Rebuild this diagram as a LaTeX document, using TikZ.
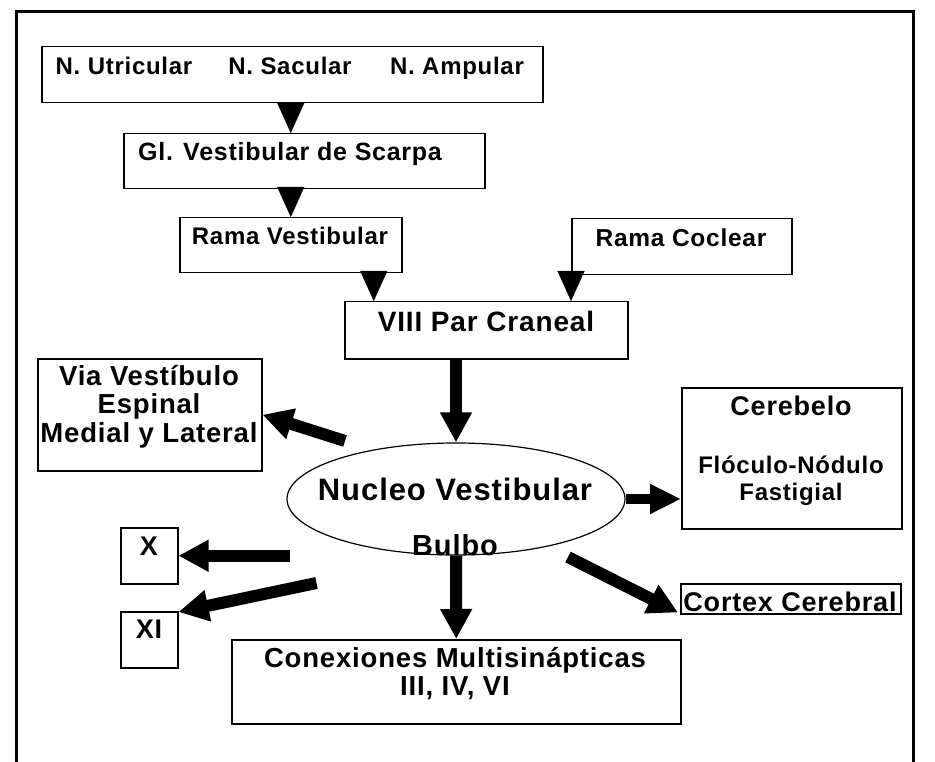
\documentclass[tikz,border=0pt]{standalone}
\usepackage{fontspec}
\newfontfamily\hb{Liberation Sans}[LetterSpace=3]
\usetikzlibrary{arrows.meta,shapes.geometric,calc}
\tikzset{
 box/.style={draw, line width=1.5pt, rectangle, inner sep=0pt, anchor=north west},
 txt/.style={anchor=base, inner sep=0pt, font=\hb\bfseries\fontsize{#1}{#1}\selectfont},
 txt/.default=24,
 tri/.style={-{Triangle[length=30pt,width=27pt]}, line width=0.1pt},
 big/.style={line width=12pt, -{Triangle[length=30pt,width=30pt]}},
 bigs/.style={line width=10pt, -{Triangle[length=31pt,width=28pt]}},
}
\begin{document}
\begin{tikzpicture}[x=1pt,y=-1pt]
\useasboundingbox (0,0) rectangle (935,762);
\fill[white] (0,0) rectangle (935,762);
% outer frame
\draw[line width=3pt] (16,790) -- (16,12) -- (913,12) -- (913,790);

% boxes
\node[box, minimum width=501pt, minimum height=56pt] (b1) at (41,46) {};
\node[box, minimum width=361pt, minimum height=55pt] (b2) at (123,133) {};
\node[box, minimum width=222pt, minimum height=55pt] (b3) at (179,217) {};
\node[box, minimum width=220pt, minimum height=56pt] (bc) at (571,218) {};
\node[box, minimum width=283pt, minimum height=57pt] (b4) at (344,301) {};
\node[box, minimum width=224pt, minimum height=112pt] (via) at (37,358) {};
\node[box, minimum width=220pt, minimum height=141pt] (cer) at (681,387) {};
\node[box, minimum width=220pt, minimum height=30pt] (cor) at (680,583) {};
\node[box, minimum width=449pt, minimum height=84pt] (con) at (231,639) {};
\node[box, minimum width=57pt, minimum height=56pt] (bx) at (120,527) {};
\node[box, minimum width=57pt, minimum height=56pt] (bxi) at (120,611) {};
\node[draw, ellipse, line width=1.2pt, minimum width=338pt, minimum height=112pt, inner sep=0pt] (nuc) at (456,499) {};

% texts
\node[txt] (t1a) at (124,75) {N. Utricular};
\node[txt] (t1b) at (290,75) {N. Sacular};
\node[txt] (t1c) at (457,75) {N. Ampular};
\node[txt=25] (t2) at (290,161) {Gl. Vestibular de Scarpa};
\node[txt] (t3) at (290,245) {Rama Vestibular};
\node[txt=24.5] (tc) at (681,247) {Rama Coclear};
\node[txt=28] (t4) at (486,331) {VIII Par Craneal};
\node[txt=27.5] (tv1) at (149,385) {Via Vestíbulo};
\node[txt=27.5] (tv2) at (149,413) {Espinal};
\node[txt=27.5] (tv3) at (149,442) {Medial y Lateral};
\node[txt=27] (tce1) at (791,415) {Cerebelo};
\node[txt=24] (tce2) at (791,473) {Flóculo-Nódulo};
\node[txt=24] (tce3) at (791,500) {Fastigial};
\node[txt=31] (tn1) at (455,500) {Nucleo Vestibular};
\node[txt=29] (tn2) at (455,555) {Bulbo};
\node[txt=27.5] (tco1) at (455,667) {Conexiones Multisinápticas};
\node[txt=27.5] (tco2) at (455,695) {III, IV, VI};
\node[txt=27] (tx) at (149,555) {X};
\node[txt=27] (txi) at (149,638) {XI};
\node[txt=27] (tcor) at (790,611) {Cortex Cerebral};

% small triangle arrows
\draw[tri] ($(b1.south)+(-1.5,0)$) -- ($(b2.north)+(-13.5,0)$);
\draw[tri] ($(b2.south)+(-13.5,0)$) -- (b3.north);
\draw[tri] ($(b3.south)+(83,0)$) -- ($(b4.north)+(-112.5,0)$);
\draw[tri] (bc.south west) -- (bc.south west |- b4.north);

% big arrows
\draw[big] (nuc.north |- b4.south) -- (nuc.north);
\draw[big] (nuc.south) -- (con.north);
\draw[bigs] (nuc.east) -- (nuc.east -| cer.west);
\draw[big] ($(nuc.center)+(-111,-58)$) -- (via.east);
\draw[big] ($(bx.east)+(111,0)$) -- (bx.east);
\draw[big] ($(bxi.north east)+(138,-28)$) -- ($(bxi.north east)+(0,1)$);
\draw[big] ($(nuc.center)+(112,58)$) -- ($(cor.south west)+(-2,-2)$);
\end{tikzpicture}
\end{document}
